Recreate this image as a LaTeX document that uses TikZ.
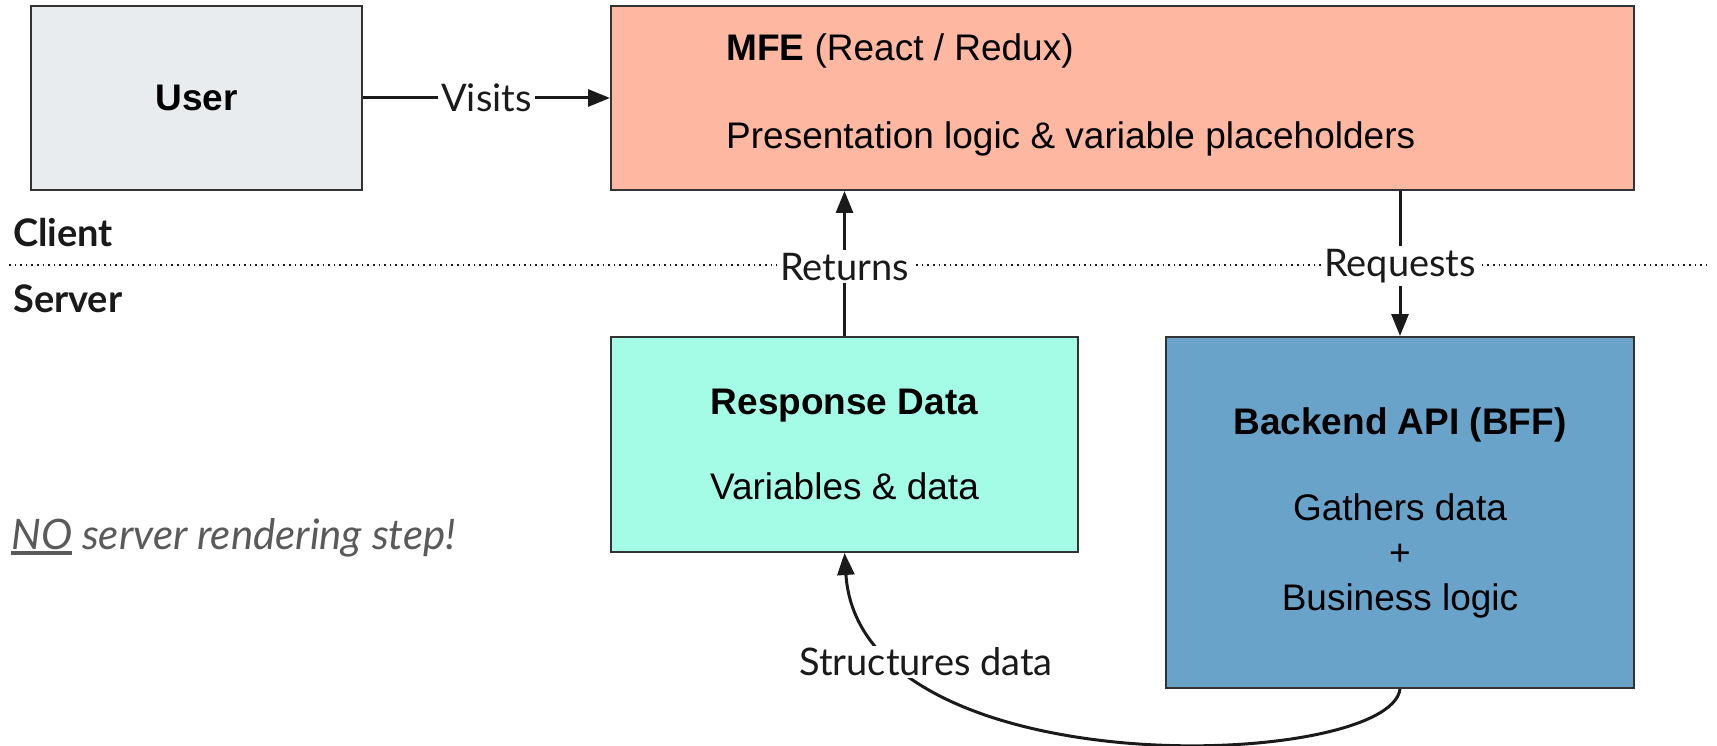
\documentclass[tikz,border=0pt]{standalone}
\usepackage{fontspec}
\setmainfont{Liberation Sans}
\newfontfamily\lato{Lato}
\usetikzlibrary{arrows.meta}
\definecolor{userfill}{HTML}{E9ECEE}
\definecolor{mfefill}{HTML}{FEB8A1}
\definecolor{respfill}{HTML}{A4FCE6}
\definecolor{bfffill}{HTML}{6AA3C9}
\definecolor{edge}{HTML}{333333}
\definecolor{ink}{HTML}{1A1A1A}
\definecolor{handgrey}{HTML}{5A5A5A}
\newcommand\thickul[1]{\leavevmode\vtop{\hbox{#1}\kern1pt\hrule height 4.5pt}}
\tikzset{
  box/.style={draw=edge, line width=2pt, rectangle, anchor=north west, inner sep=0pt, align=center, font=\fontsize{37}{44}\selectfont},
  conn/.style={draw=ink, line width=3pt, -{Triangle[length=22pt,width=17pt]}},
  lbl/.style={fill=white, inner sep=3pt, text=ink, font=\lato\fontsize{38}{42}\selectfont},
  side/.style={anchor=west, inner sep=0pt, text=ink, font=\lato\bfseries\fontsize{38}{42}\selectfont}
}
\begin{document}
\begin{tikzpicture}[x=1pt, y=-1pt]
\useasboundingbox (0,0) rectangle (1717,746);
% dotted separator
\coordinate (dl) at (9,265);
\coordinate (dr) at (1708,265);
\draw[ink, line width=1.6pt, dash pattern=on 1.6pt off 4pt] (dl) -- (dr);
\node[side] (client) at (13,233) {Client};
\node[side] (server) at (13,299) {Server};
% boxes
\node[box, fill=userfill, minimum width=331pt, minimum height=184pt] (user) at (30,5) {\bfseries User};
\node[box, fill=mfefill, minimum width=1023pt, minimum height=184pt] (mfe) at (610,5) {};
\node[anchor=west, align=left, inner sep=0pt, font=\fontsize{37}{88}\selectfont] (mfetext) at (726,95)
  {\textbf{MFE} (React / Redux)\\Presentation logic \& variable placeholders};
\node[box, fill=respfill, minimum width=467pt, minimum height=215pt, font=\fontsize{37}{85}\selectfont] (resp) at (610,336)
  {\textbf{Response Data}\\Variables \& data};
\node[box, fill=bfffill, minimum width=468pt, minimum height=351pt, font=\fontsize{37}{45}\selectfont] (bff) at (1165,336)
  {\textbf{Backend API (BFF)}\\[41pt]Gathers data\\+\\Business logic};
% connectors
\draw[conn] (user.east) -- node[lbl] (visits) {Visits} (mfe.west |- user.east);
\draw[conn] (resp.north) -- node[lbl, pos=0.478] (returns) {Returns} (resp.north |- mfe.south);
\draw[conn] (mfe.south -| bff.north) -- node[lbl, pos=0.517] (requests) {Requests} (bff.north);
\draw[conn] (bff.south) .. controls (1390,770) and (860,790) .. (resp.south);
\node[lbl, inner sep=2pt] (structures) at (926,662) {Structures data};
% note
\node[anchor=west, inner sep=0pt, text=handgrey, font=\lato\itshape\fontsize{42}{46}\selectfont] (note) at (11,538)
  {\thickul{NO} server rendering step!};
\end{tikzpicture}
\end{document}
